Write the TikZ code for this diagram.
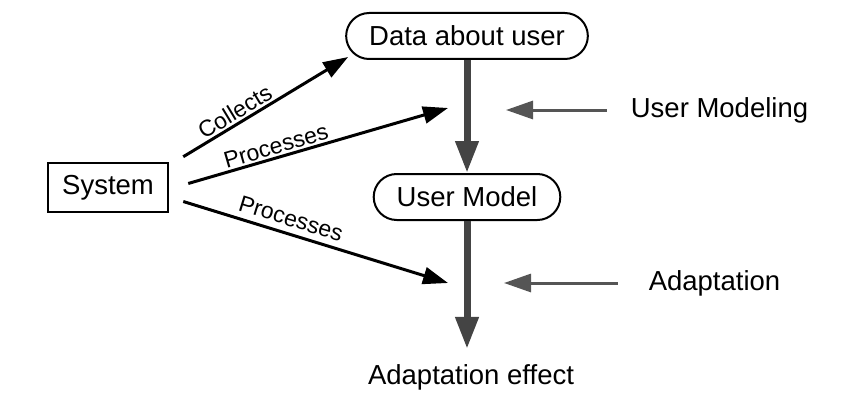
\documentclass[tikz,border=0pt]{standalone}
\usepackage{fontspec}
\setmainfont{Liberation Sans}
\usetikzlibrary{arrows.meta}
\definecolor{flowgray}{HTML}{444444}
\definecolor{notegray}{HTML}{555555}
\begin{document}
\begin{tikzpicture}[x=1pt, y=-1pt,
	every node/.style={font=\fontsize{27.5}{33}\selectfont, inner sep=2pt},
	pill/.style={draw, line width=2pt, rounded corners=23pt, minimum height=46pt, inner xsep=23pt},
	box/.style={draw, line width=2.5pt, minimum width=120pt, minimum height=49pt},
	act/.style={-{Triangle[length=25pt,width=17pt]}, line width=3pt},
	flow/.style={-{Triangle[length=32pt,width=22pt]}, line width=7pt, flowgray},
	note/.style={-{Triangle[length=27pt,width=18pt]}, line width=3pt, notegray},
	lbl/.style={font=\fontsize{23}{27}\selectfont, sloped, above}]
		\useasboundingbox (0,0) rectangle (851,404);
		
		% Data -> Model -> Effect
		\node[pill] (DataUser) at (467,36) {Data about user};
		\node[pill] (UserModel) at (467,197) {User Model};
		\node (Effect) at (471,377) {Adaptation effect};
		\draw[flow] (DataUser.south) -- (UserModel.north);
		\draw[flow, shorten >=13pt] (UserModel.south) -- (UserModel.south |- Effect.north);
		
		\node[box] (System) at (108,187.5) {System};
		\coordinate (ModelIn) at (448,108);
		\coordinate (AdaptIn) at (448,283);
		\draw[act] ([shift={(14,-5)}]System.north east) -- node[lbl, pos=0.35] {Collects} ([shift={(3,-3)}]DataUser.south west);
		\draw[act] ([shift={(19,-4)}]System.east) -- node[lbl, pos=0.35] {Processes} (ModelIn);
		\draw[act] ([shift={(14,14)}]System.east) -- node[lbl, pos=0.39, above=4pt] {Processes} (AdaptIn);
		
		\node (UserModeling) at (719.5,110) {User Modeling};
		\node (Adaptation) at (714.5,283) {Adaptation};
		\coordinate (ModelTip) at (506,110);
		\coordinate (AdaptTip) at (504,283);
		\draw[note, shorten <=22pt] (UserModeling.west) -- (ModelTip);
		\draw[note, shorten <=29pt] (Adaptation.west) -- (AdaptTip);
		
		
	\end{tikzpicture}
\end{document}
